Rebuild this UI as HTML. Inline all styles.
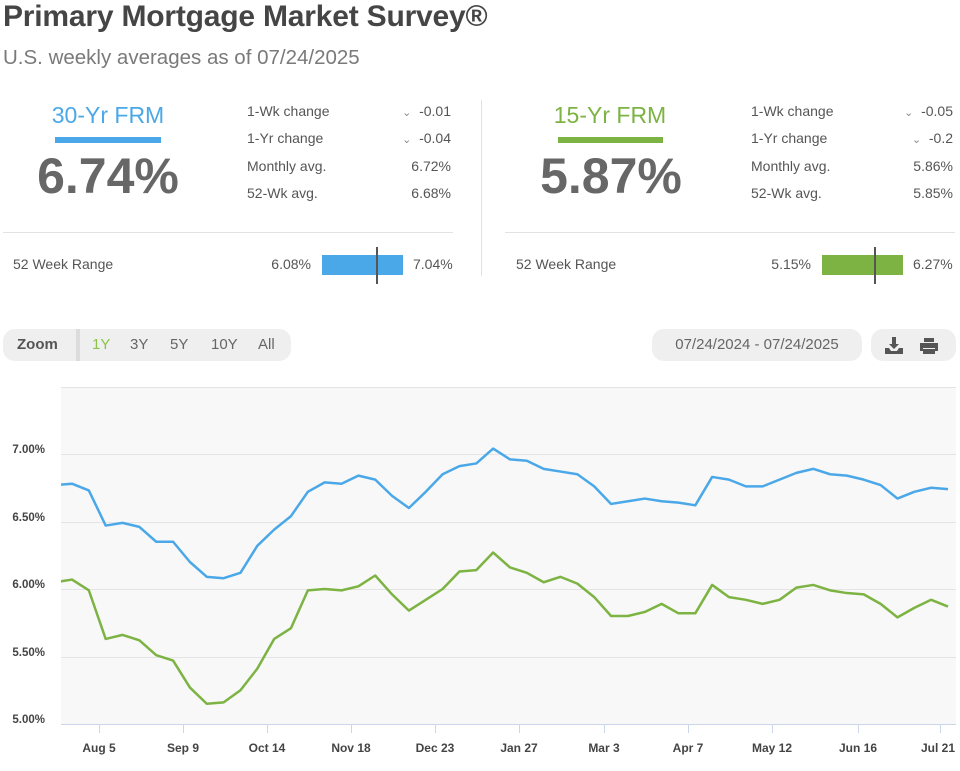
<!DOCTYPE html>
<html><head><style>
body{margin:0;width:960px;height:771px;background:#fff;font-family:"Liberation Sans",sans-serif;position:relative;overflow:hidden;color:#555}
.a{position:absolute;white-space:nowrap}
.r{text-align:right}
.lab{font-size:14px;color:#555}
</style></head><body>
<div class="a" style="left:3px;top:0px;font-size:30px;font-weight:bold;color:#454545;letter-spacing:-0.2px">Primary Mortgage Market Survey®</div>
<div class="a" style="left:3px;top:46px;font-size:20.5px;color:#7a7a7a">U.S. weekly averages as of 07/24/2025</div>

<!-- left panel -->
<div class="a" style="left:38px;width:140px;text-align:center;top:102px;font-size:23px;color:#4ba8e8">30-Yr FRM</div>
<div class="a" style="left:55px;top:137px;width:106px;height:6px;background:#4ba8e8"></div>
<div class="a" style="left:8px;width:200px;text-align:center;top:147px;font-size:50px;font-weight:bold;color:#676767">6.74%</div>
<div class="a lab" style="left:247px;top:103px">1-Wk change</div>
<div class="a lab" style="left:247px;top:130px">1-Yr change</div>
<div class="a lab" style="left:247px;top:158px">Monthly avg.</div>
<div class="a lab" style="left:247px;top:185px">52-Wk avg.</div>
<div class="a lab r" style="left:380px;width:71px;top:103px"><span style="font-size:11px;color:#888">&#8964;</span>&nbsp; -0.01</div>
<div class="a lab r" style="left:380px;width:71px;top:130px"><span style="font-size:11px;color:#888">&#8964;</span>&nbsp; -0.04</div>
<div class="a lab r" style="left:380px;width:71px;top:158px">6.72%</div>
<div class="a lab r" style="left:380px;width:71px;top:185px">6.68%</div>
<div class="a" style="left:3px;top:232px;width:450px;height:1px;background:#e2e2e2"></div>
<div class="a lab" style="left:13px;top:256px">52 Week Range</div>
<div class="a lab r" style="left:240px;width:71px;top:256px">6.08%</div>
<div class="a" style="left:322px;top:255px;width:81px;height:20px;background:#4ba8e8"></div>
<div class="a" style="left:376px;top:247px;width:2px;height:37px;background:#555"></div>
<div class="a lab" style="left:413px;top:256px">7.04%</div>
<div class="a" style="left:481px;top:100px;width:1px;height:176px;background:#e2e2e2"></div>

<!-- right panel -->
<div class="a" style="left:540px;width:140px;text-align:center;top:102px;font-size:23px;color:#7cb342">15-Yr FRM</div>
<div class="a" style="left:558px;top:137px;width:105px;height:6px;background:#7cb342"></div>
<div class="a" style="left:511px;width:200px;text-align:center;top:147px;font-size:50px;font-weight:bold;color:#676767">5.87%</div>
<div class="a lab" style="left:751px;top:103px">1-Wk change</div>
<div class="a lab" style="left:751px;top:130px">1-Yr change</div>
<div class="a lab" style="left:751px;top:158px">Monthly avg.</div>
<div class="a lab" style="left:751px;top:185px">52-Wk avg.</div>
<div class="a lab r" style="left:882px;width:71px;top:103px"><span style="font-size:11px;color:#888">&#8964;</span>&nbsp; -0.05</div>
<div class="a lab r" style="left:882px;width:71px;top:130px"><span style="font-size:11px;color:#888">&#8964;</span>&nbsp; -0.2</div>
<div class="a lab r" style="left:882px;width:71px;top:158px">5.86%</div>
<div class="a lab r" style="left:882px;width:71px;top:185px">5.85%</div>
<div class="a" style="left:505px;top:232px;width:450px;height:1px;background:#e2e2e2"></div>
<div class="a lab" style="left:516px;top:256px">52 Week Range</div>
<div class="a lab r" style="left:740px;width:71px;top:256px">5.15%</div>
<div class="a" style="left:822px;top:255px;width:81px;height:20px;background:#7cb342"></div>
<div class="a" style="left:874px;top:247px;width:2px;height:37px;background:#555"></div>
<div class="a lab" style="left:913px;top:256px">6.27%</div>

<!-- controls -->
<div class="a" style="left:3px;top:329px;width:288px;height:32px;background:#efefef;border-radius:12px"></div>
<div class="a" style="left:76px;top:329px;width:4px;height:32px;background:#dcdcdc"></div>
<div class="a" style="left:17px;top:336px;font-size:15px;font-weight:bold;color:#555">Zoom</div>
<div class="a" style="left:92px;top:336px;font-size:15px;color:#8bc34a">1Y</div>
<div class="a" style="left:130px;top:336px;font-size:15px;color:#666">3Y</div>
<div class="a" style="left:170px;top:336px;font-size:15px;color:#666">5Y</div>
<div class="a" style="left:211px;top:336px;font-size:15px;color:#666">10Y</div>
<div class="a" style="left:258px;top:336px;font-size:15px;color:#666">All</div>
<div class="a" style="left:652px;top:329px;width:210px;height:32px;background:#efefef;border-radius:12px"></div>
<div class="a" style="left:652px;top:336px;width:210px;text-align:center;font-size:15px;color:#666">07/24/2024 - 07/24/2025</div>
<div class="a" style="left:871px;top:329px;width:85px;height:32px;background:#efefef;border-radius:12px"></div>
<svg class="a" style="left:871px;top:329px" width="85" height="32">
<path d="M21 8h4v7h3l-5 5-5-5h3z M14 19h4l2 3h6l2-3h4v6H14z" fill="#555"/>
<path d="M53 9h10v4H53z M49 14h18v8h-3v-3H52v3h-3z M52 20h12v5H52z" fill="#555"/>
</svg>

<!-- chart -->
<svg class="a" style="left:0;top:0" width="960" height="771">
<defs><clipPath id="c"><rect x="61" y="380" width="895" height="350"/></clipPath></defs>
<rect x="61" y="387" width="895" height="337" fill="#f8f8f8"/>
<g stroke="#e4e4e4" stroke-width="1">
<line x1="61" x2="956" y1="387.5" y2="387.5"/>
<line x1="61" x2="956" y1="454.5" y2="454.5"/>
<line x1="61" x2="956" y1="522.5" y2="522.5"/>
<line x1="61" x2="956" y1="589.5" y2="589.5"/>
<line x1="61" x2="956" y1="657.5" y2="657.5"/>
</g>
<line x1="61" x2="956" y1="724.5" y2="724.5" stroke="#ccd6eb"/>
<g stroke="#ccd6eb">
<line x1="99.5" x2="99.5" y1="724" y2="733"/><line x1="183.5" x2="183.5" y1="724" y2="733"/>
<line x1="267.5" x2="267.5" y1="724" y2="733"/><line x1="351.5" x2="351.5" y1="724" y2="733"/>
<line x1="435.5" x2="435.5" y1="724" y2="733"/><line x1="519.5" x2="519.5" y1="724" y2="733"/>
<line x1="604.5" x2="604.5" y1="724" y2="733"/><line x1="688.5" x2="688.5" y1="724" y2="733"/>
<line x1="772.5" x2="772.5" y1="724" y2="733"/><line x1="858.5" x2="858.5" y1="724" y2="733"/>
<line x1="940.5" x2="940.5" y1="724" y2="733"/>
</g>
<g font-family="Liberation Sans,sans-serif" font-size="11.5" font-weight="bold" fill="#444" text-anchor="end">
<text x="45" y="453">7.00%</text><text x="45" y="521">6.50%</text><text x="45" y="588">6.00%</text>
<text x="45" y="656">5.50%</text><text x="45" y="723">5.00%</text>
</g>
<g font-family="Liberation Sans,sans-serif" font-size="12" font-weight="bold" fill="#444" text-anchor="middle">
<text x="99" y="752">Aug 5</text><text x="183" y="752">Sep 9</text><text x="267" y="752">Oct 14</text>
<text x="351" y="752">Nov 18</text><text x="435" y="752">Dec 23</text><text x="519" y="752">Jan 27</text>
<text x="604" y="752">Mar 3</text><text x="688" y="752">Apr 7</text><text x="772" y="752">May 12</text>
<text x="858" y="752">Jun 16</text><text x="938" y="752">Jul 21</text>
</g>
<g clip-path="url(#c)">
<g transform="translate(72,1399) scale(16.846,-135)" fill="none" stroke-width="2.5" stroke-linejoin="round">
<polyline vector-effect="non-scaling-stroke" stroke="#4ba8e8" points="-1,6.77 0,6.78 1,6.73 2,6.47 3,6.49 4,6.46 5,6.35 6,6.35 7,6.20 8,6.09 9,6.08 10,6.12 11,6.32 12,6.44 13,6.54 14,6.72 15,6.79 16,6.78 17,6.84 18,6.81 19,6.69 20,6.60 21,6.72 22,6.85 23,6.91 24,6.93 25,7.04 26,6.96 27,6.95 28,6.89 29,6.87 30,6.85 31,6.76 32,6.63 33,6.65 34,6.67 35,6.65 36,6.64 37,6.62 38,6.83 39,6.81 40,6.76 41,6.76 42,6.81 43,6.86 44,6.89 45,6.85 46,6.84 47,6.81 48,6.77 49,6.67 50,6.72 51,6.75 52,6.74"/>
<polyline vector-effect="non-scaling-stroke" stroke="#7cb342" points="-1,6.05 0,6.07 1,5.99 2,5.63 3,5.66 4,5.62 5,5.51 6,5.47 7,5.27 8,5.15 9,5.16 10,5.25 11,5.41 12,5.63 13,5.71 14,5.99 15,6.00 16,5.99 17,6.02 18,6.10 19,5.96 20,5.84 21,5.92 22,6.00 23,6.13 24,6.14 25,6.27 26,6.16 27,6.12 28,6.05 29,6.09 30,6.04 31,5.94 32,5.80 33,5.80 34,5.83 35,5.89 36,5.82 37,5.82 38,6.03 39,5.94 40,5.92 41,5.89 42,5.92 43,6.01 44,6.03 45,5.99 46,5.97 47,5.96 48,5.89 49,5.79 50,5.86 51,5.92 52,5.87"/>
</g>
</g>
</svg>
</body></html>
